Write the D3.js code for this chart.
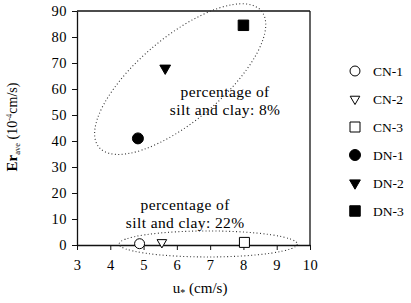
<!DOCTYPE html>
<html><head><meta charset="utf-8">
<script src="https://cdn.jsdelivr.net/npm/d3@7"></script>
<style>
body{margin:0;background:#fff;}
svg text{font-family:"Liberation Serif","Times New Roman",serif !important;fill:#000;}
</style></head>
<body><svg id="c" width="411" height="303"></svg>
<script>
// ---- data ----
const series = ["CN-1","CN-2","CN-3","DN-1","DN-2","DN-3"];
const uStar  = [4.88, 5.55, 8.03, 4.83, 5.65, 8.0];
const erAve  = [0.5, 1.0, 1.0, 41, 68, 84.5];
const shapes = ["circle","triangle","square","circle","triangle","square"];
const filled = [false,false,false,true,true,true];
const xTicks = [3,4,5,6,7,8,9,10];
const yTicks = [0,10,20,30,40,50,60,70,80,90];
// annotation groups (centres in data units)
const groupLabels = [["percentage of","silt and clay: 8%"],["percentage of","silt and clay: 22%"]];
const groupCentres = [[6.1,63.8],[6.94,0.4]];
const groupLabelPos = [[7.45,57],[6.25,13.5]];

// ---- drawing ----
const FONT = "'Liberation Serif', 'Times New Roman', serif";
const svg = d3.select("#c").style("font-family",FONT);
const x = d3.scaleLinear().domain([3,10]).range([77,310]);
const y = d3.scaleLinear().domain([0,90]).range([245,11]);

// frame top & right
svg.append("line").attr("x1",x(3)).attr("x2",x(10)).attr("y1",y(90)).attr("y2",y(90)).attr("stroke","#111").attr("stroke-width",1.3);
svg.append("line").attr("x1",x(10)).attr("x2",x(10)).attr("y1",y(90)).attr("y2",y(0)).attr("stroke","#111").attr("stroke-width",1.3);

const xa = svg.append("g").attr("transform",`translate(0,${y(0)})`)
  .call(d3.axisBottom(x).tickValues(xTicks).tickFormat(d3.format("d")).tickSize(5).tickPadding(10).tickSizeOuter(0));
const ya = svg.append("g").attr("transform",`translate(${x(3)},0)`)
  .call(d3.axisLeft(y).tickValues(yTicks).tickFormat(d3.format("d")).tickSize(5).tickPadding(5).tickSizeOuter(0));
[xa,ya].forEach(a=>{
  a.attr("font-family",null).style("font-family",FONT);
  a.selectAll("path").attr("stroke","#111").attr("stroke-width",1.3);
  a.selectAll("line").attr("stroke","#111").attr("stroke-width",1);
  a.selectAll("text").style("font-family",FONT).attr("font-size",14.5).attr("fill","#000").attr("letter-spacing",0.5);
});

// ellipses
const ell = [
  {c:groupCentres[0], rx:106, ry:42, rot:-40},
  {c:groupCentres[1], rx:89, ry:13, rot:0}
];
ell.forEach(e=>{
  svg.append("ellipse")
    .attr("transform",`translate(${x(e.c[0])},${y(e.c[1])}) rotate(${e.rot})`)
    .attr("rx",e.rx).attr("ry",e.ry)
    .attr("fill","none").attr("stroke","#333").attr("stroke-width",1.1)
    .attr("stroke-dasharray","1,2.4");
});

// group labels
groupLabels.forEach((lines,i)=>{
  const t = svg.append("text").attr("text-anchor","middle").attr("font-size",15.5)
    .attr("letter-spacing",0.4).style("font-family",FONT);
  lines.forEach((l,j)=>{
    t.append("tspan").attr("x",x(groupLabelPos[i][0])).attr("y",y(groupLabelPos[i][1])+j*18).text(l);
  });
});

// symbols
const symType = {circle:d3.symbolCircle, triangle:d3.symbolTriangle, square:d3.symbolSquare};
function symSize(shape, fill){
  if(shape==="circle") return fill?95:78;
  if(shape==="triangle") return fill?50:40;
  return fill?110:100;
}
function drawSym(g, i){
  const sh = shapes[i];
  g.append("path")
    .attr("d", d3.symbol().type(symType[sh]).size(symSize(sh,filled[i]))())
    .attr("transform", sh==="triangle" ? "rotate(180)" : null)
    .attr("fill", filled[i] ? "#000" : "#fff")
    .attr("stroke","#000").attr("stroke-width",1);
}
series.forEach((s,i)=>{
  const g = svg.append("g").attr("transform",`translate(${x(uStar[i])},${y(erAve[i])})`);
  drawSym(g,i);
});

// legend
series.forEach((s,i)=>{
  const g = svg.append("g").attr("transform",`translate(355,${71+i*28})`);
  drawSym(g,i);
  g.append("text").attr("x",18).attr("y",5).attr("font-size",13.5).style("font-family",FONT).text(s);
});

// axis titles
const xt = svg.append("text").attr("x",x(6.7)).attr("y",293).attr("text-anchor","middle").attr("font-size",15).style("font-family",FONT);
xt.append("tspan").text("u");
xt.append("tspan").attr("font-size",10).attr("dy",3).text("*");
xt.append("tspan").attr("dy",-3).text(" (cm/s)");

const yt = svg.append("text").attr("transform","translate(17,127) rotate(-90)").attr("text-anchor","middle").attr("font-size",14).style("font-family",FONT);
yt.append("tspan").attr("font-weight","bold").attr("font-size",15).text("Er");
yt.append("tspan").attr("font-size",8.5).attr("dy",3).text("ave");
yt.append("tspan").attr("dy",-3).text(" (10");
yt.append("tspan").attr("font-size",8.5).attr("dy",-5.5).text("-4");
yt.append("tspan").attr("dy",5.5).text("cm/s)");
</script></body></html>
